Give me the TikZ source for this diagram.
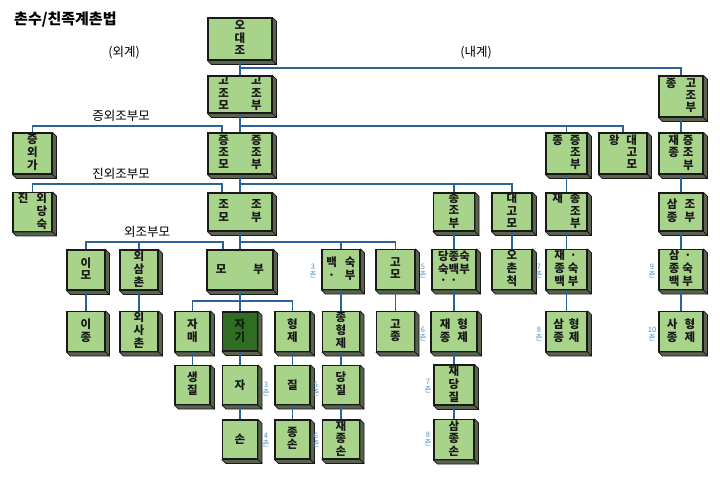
\documentclass[tikz,border=0pt]{standalone}
\usepackage{fontspec}
\setmainfont{Noto Sans CJK KR}
\usetikzlibrary{calc}
\definecolor{boxg}{HTML}{A8D38A}
\definecolor{darkg}{HTML}{2F6E22}
\definecolor{extrc}{HTML}{59634E}
\definecolor{linec}{HTML}{2A6494}
\definecolor{lblc}{HTML}{4A90C8}
\tikzset{
 kbox/.style={draw=black!90, line width=1.1pt, fill=boxg, inner sep=0pt, font=\fontsize{11.5}{11}\selectfont\bfseries, text=black!90},
 selfbox/.style={kbox, fill=darkg, text=black!70!darkg},
 conn/.style={draw=linec, line width=1.3pt},
 extrude/.style={fill=extrc, draw=black!90, line width=0.8pt, line join=round},
 deg/.style={font=\fontsize{7.5}{7.5}\selectfont, text=lblc, inner sep=0pt, align=center},
 lbl/.style={font=\fontsize{12.5}{13}\selectfont, inner sep=0pt},
}
% [style]{name}{cx}{cy}{w}{h}{text}
\newcommand\kb[7][kbox]{%
 \node[#1, minimum width=#5pt, minimum height=#6pt] (#2) at (#3,#4) {#7};
 \filldraw[extrude] (#2.north east) -- ++(4,4) -- ($(#2.south east)+(4,4)$) -- ($(#2.south west)+(4,4)$) -- (#2.south west) -- (#2.south east) -- cycle;
 \draw[line width=0.6pt] (#2.south east) -- ++(4,4);
}
\newcommand\vc[1]{\begin{tabular}{@{}c@{}}#1\end{tabular}}
\newcommand\tc[2]{\begin{tabular}{@{}c@{\hspace{#1}}c@{}}#2\end{tabular}}
\begin{document}
\begin{tikzpicture}[x=1pt,y=-1pt]
\useasboundingbox (0,0) rectangle (720,480);
% titles
\node[font=\fontsize{15}{16}\selectfont\bfseries, inner sep=0pt, anchor=west] (title) at (14,20) {촌수/친족계촌법};
\node[lbl] (oegye) at (124,53) {(외계)};
\node[lbl] (naegye) at (476,53) {(내계)};
\node[lbl] (l1) at (121,116) {증외조부모};
\node[lbl] (l2) at (121,174) {진외조부모};
\node[lbl] (l3) at (147,232) {외조부모};
% main column
\kb{odj}{240}{39}{64}{42}{\vc{오\\대\\조}}
\kb{gojo}{240}{94.5}{64}{37}{\tc{22pt}{고&고\\조&조\\모&부}}
\kb{jeungjo}{240}{153.5}{64}{41}{\tc{22pt}{증&증\\조&조\\모&부}}
\kb{jo}{240}{212}{64}{38}{\tc{22pt}{조&조\\모&부}}
\kb{mobu}{240}{270}{66}{40}{\tc{27pt}{모&부}}
% maternal
\kb{jeungoega}{32.5}{153.5}{39}{41}{\vc{증\\외\\가}}
\kb{jinoe}{32.5}{212}{39}{38}{\tc{8pt}{진&외\\&당\\&숙}}
\kb{imo}{86}{270}{38}{40}{\vc{이\\모}}
\kb{oesamchon}{139}{270}{38}{40}{\vc{외\\삼\\촌}}
\kb{ijong}{86}{331.5}{38}{40}{\vc{이\\종}}
\kb{oesachon}{139}{331.5}{38}{40}{\vc{외\\사\\촌}}
% right top
\kb{jgojobu}{681}{96.5}{44}{41}{\tc{9pt}{종&고\\&조\\&부}}
\kb{jjjb}{566.5}{153.5}{41}{41}{\tc{7pt}{종&증\\&조\\&부}}
\kb{wdgm}{623}{153.5}{48}{41}{\tc{7pt}{왕&대\\&고\\&모}}
\kb{jjjb2}{681}{153.5}{44}{41}{\tc{4pt}{재&증\\종&조\\&부}}
\kb{jongjobu}{454}{212}{41}{38}{\vc{종\\조\\부}}
\kb{daegomo}{512}{212}{40}{38}{\vc{대\\고\\모}}
\kb{jjjobu}{566.5}{212}{41}{38}{\tc{7pt}{재&종\\&조\\&부}}
\kb{sjjobu}{681}{212}{44}{38}{\tc{7pt}{삼&조\\종&부}}
% row 2
\kb{baeksuk}{341}{269.5}{38}{40}{\tc{8pt}{백&숙\\·&부}}
\kb{gomo}{395.5}{269.5}{39}{40}{\vc{고\\모}}
\kb{dangsuk}{454}{269.5}{44}{40}{\begin{tabular}{@{}c@{\hspace{0pt}}c@{\hspace{0pt}}c@{}}당&종&숙\\숙&백&부\\·&·&\end{tabular}}
\kb{ochon}{512}{269.5}{40}{40}{\vc{오\\촌\\척}}
\kb{jjsuk}{566.5}{269.5}{41}{40}{\tc{3pt}{재&·\\종&숙\\백&부}}
\kb{sjsuk}{681}{269.5}{44}{40}{\tc{3pt}{삼&·\\종&숙\\백&부}}
% row 3
\kb{jamae}{192.5}{331.5}{35}{40}{\vc{자\\매}}
\kb[selfbox]{jagi}{240}{331.5}{35}{39}{\vc{자\\기}}
\kb{hyungje}{292.5}{331.5}{35}{40}{\vc{형\\제}}
\kb{jhj}{341}{331.5}{37}{40}{\vc{종\\형\\제}}
\kb{gojong}{395.5}{331.5}{38}{40}{\vc{고\\종}}
\kb{jjhj}{454}{331.5}{46}{40}{\tc{7pt}{재&형\\종&제}}
\kb{sjhj}{566.5}{331.5}{41}{40}{\tc{5pt}{삼&형\\종&제}}
\kb{sajhj}{681}{331.5}{44}{40}{\tc{7pt}{사&형\\종&제}}
% row 4
\kb{saengjil}{192.5}{385}{35}{39}{\vc{생\\질}}
\kb{ja}{240}{385}{35}{39}{자}
\kb{jil}{292.5}{385}{35}{39}{질}
\kb{dangjil}{341}{385}{37}{39}{\vc{당\\질}}
\kb{jdangjil}{454}{385}{40}{40}{\vc{재\\당\\질}}
% row 5
\kb{son}{240}{439.5}{35}{39}{손}
\kb{jongson}{292.5}{439.5}{35}{39}{\vc{종\\손}}
\kb{jjson}{341}{439.5}{37}{39}{\vc{재\\종\\손}}
\kb{sjson}{454}{439.5}{40}{40}{\vc{삼\\종\\손}}
% degree labels
\node[deg] (d3a) at (313,271) {3\\촌};
\node[deg] (d3b) at (266,389) {3\\촌};
\node[deg] (d4) at (266,440) {4\\촌};
\node[deg] (d5a) at (316,389) {5\\촌};
\node[deg] (d6a) at (316,440) {6\\촌};
\node[deg] (d5b) at (423,271) {5\\촌};
\node[deg] (d6b) at (423,334) {6\\촌};
\node[deg] (d7a) at (428,386) {7\\촌};
\node[deg] (d8a) at (428,439) {8\\촌};
\node[deg] (d7b) at (539,271) {7\\촌};
\node[deg] (d8b) at (539,334) {8\\촌};
\node[deg] (d9) at (652,271) {9\\촌};
\node[deg] (d10) at (652,334) {10\\촌};
% junction coordinates
\coordinate (h1) at (240,68);
\coordinate (r1) at (240,126);
\coordinate (m1) at (222,126);
\coordinate (r2) at (240,184);
\coordinate (m2) at (222,184);
\coordinate (r3) at (240,242);
\coordinate (m3) at (223,242);
\coordinate (r4) at (240,301);
% connectors
\draw[conn] (odj) -- (gojo);
\draw[conn] (gojo) -- (jeungjo);
\draw[conn] (jeungjo) -- (jo);
\draw[conn] (jo) -- (mobu);
\draw[conn] (mobu) -- (jagi);
\draw[conn] (h1) -| (jgojobu.north);
\draw[conn] (r1) -| (jjjb.north);
\draw[conn] (r1) -| (wdgm.north);
\draw[conn] (jeungoega.north) |- (m1) -- (m1 |- jeungjo.north);
\draw[conn] (jgojobu) -- (jjjb2);
\draw[conn] (r2) -| (jongjobu.north);
\draw[conn] (r2) -| (daegomo.north);
\draw[conn] (jinoe.north) |- (m2) -- (m2 |- jo.north);
\draw[conn] (jjjb) -- (jjjobu);
\draw[conn] (jjjb2) -- (sjjobu);
\draw[conn] (r3) -| (baeksuk.north);
\draw[conn] (r3) -| (gomo.north);
\draw[conn] (imo.north) |- (m3) -- (m3 |- mobu.north);
\draw[conn] (oesamchon.north) -- (oesamchon.north |- m3);
\draw[conn] (jongjobu) -- (dangsuk);
\draw[conn] (daegomo) -- (ochon);
\draw[conn] (jjjobu) -- (jjsuk);
\draw[conn] (sjjobu) -- (sjsuk);
\draw[conn] (r4) -| (jamae.north);
\draw[conn] (r4) -| (hyungje.north);
\draw[conn] (imo) -- (ijong);
\draw[conn] (oesamchon) -- (oesachon);
\draw[conn] (baeksuk) -- (jhj);
\draw[conn] (gomo) -- (gojong);
\draw[conn] (dangsuk) -- (jjhj);
\draw[conn] (jjsuk) -- (sjhj);
\draw[conn] (sjsuk) -- (sajhj);
\draw[conn] (jamae) -- (saengjil);
\draw[conn] (jagi) -- (ja);
\draw[conn] (ja) -- (son);
\draw[conn] (hyungje) -- (jil);
\draw[conn] (jil) -- (jongson);
\draw[conn] (jhj) -- (dangjil);
\draw[conn] (dangjil) -- (jjson);
\draw[conn] (jjhj) -- (jdangjil);
\draw[conn] (jdangjil) -- (sjson);
\end{tikzpicture}
\end{document}
